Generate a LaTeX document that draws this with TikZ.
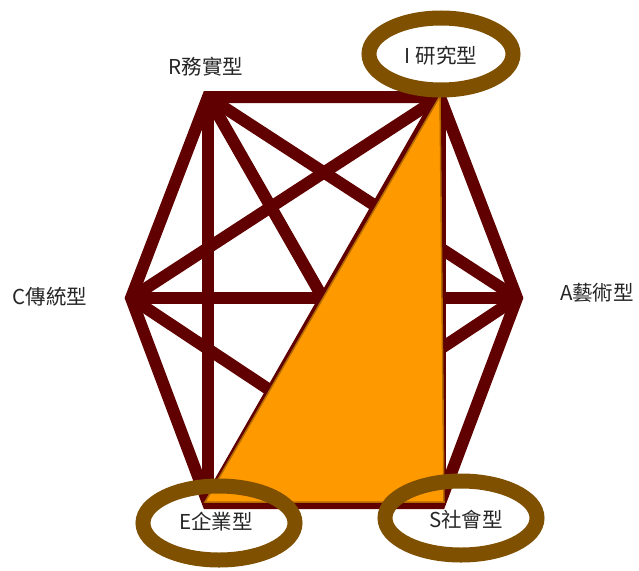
\documentclass[tikz,border=0pt]{standalone}
\usepackage{fontspec}
\setmainfont{Noto Sans CJK TC}
\definecolor{edgered}{HTML}{600000}
\definecolor{ringbrown}{HTML}{7F5000}
\definecolor{triorange}{HTML}{FF9900}
\definecolor{triedge}{HTML}{B36B00}
\begin{document}
\begin{tikzpicture}[x=1pt,y=-1pt,
  link/.style={draw=edgered,line width=12pt,line join=miter,miter limit=20},
  ring/.style={draw=ringbrown,line width=15pt},
  lab/.style={font=\fontsize{20.5}{24}\selectfont,text=black!85,inner sep=0pt},
  vtx/.style={inner sep=0pt,minimum size=0pt}]
\useasboundingbox (0,0) rectangle (639,570);
% vertices
\coordinate (R) at (208,97);
\coordinate (I) at (440,97);
\coordinate (A) at (517,298);
\coordinate (S) at (440,503);
\coordinate (E) at (208,503);
\coordinate (C) at (131,298);
% hexagon
\draw[link] (R) -- (I) -- (A) -- (S) -- (E) -- (C) -- cycle;
% diagonals
\draw[link] (R) -- (A);
\draw[link] (R) -- (S);
\draw[link] (R) -- (E);
\draw[link] (C) -- (I);
\draw[link] (C) -- (A);
\draw[link] (C) -- (S);
\draw[link] (I) -- (E);
\draw[link] (I) -- (S);
\draw[link] (A) -- (E);
% triangle
\draw[fill=triorange,draw=triedge,line width=1.5pt,line join=miter]
  (440,96) -- (205,502) -- (444,502) -- cycle;
% rings
\draw[ring] (441,54) ellipse [x radius=72, y radius=36];
\draw[ring] (219,523) ellipse [x radius=76, y radius=37];
\draw[ring] (461,518) ellipse [x radius=76, y radius=37];
% labels
\node[lab] (lR) at (206,67) {R務實型};
\node[lab] (lI) at (441,56) {I 研究型};
\node[lab] (lA) at (597,293) {A藝術型};
\node[lab] (lC) at (50,297) {C傳統型};
\node[lab] (lE) at (216,522) {E企業型};
\node[lab] (lS) at (466,520) {S社會型};
\end{tikzpicture}
\end{document}
